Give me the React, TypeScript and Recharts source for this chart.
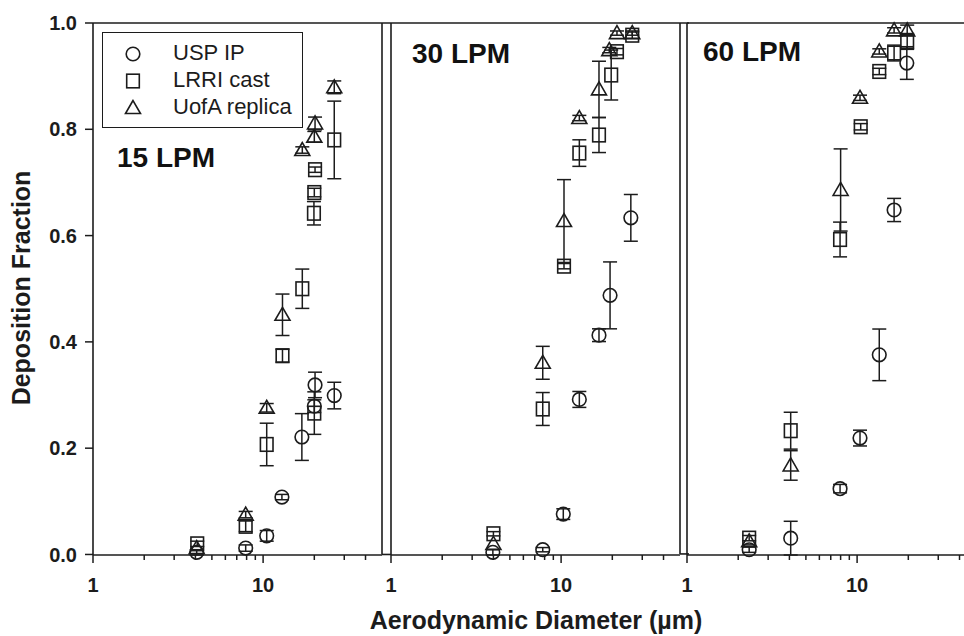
import { ScatterChart, Scatter, XAxis, YAxis, ErrorBar, ReferenceLine, Legend } from 'recharts';

// [diameter µm, deposition fraction, ± error]
type Pt = [number, number, number];

const usp15: Pt[] = [
  [4.07, 0.004, 0.005], [7.9, 0.012, 0.006], [10.5, 0.035, 0.01], [12.9, 0.108, 0.005],
  [16.9, 0.221, 0.044], [20.2, 0.319, 0.024], [20.0, 0.279, 0.012], [26.2, 0.299, 0.025],
];
const lrri15: Pt[] = [
  [4.1, 0.02, 0.005], [7.9, 0.053, 0.01], [10.5, 0.207, 0.04], [13.0, 0.374, 0.012],
  [17.0, 0.5, 0.037], [19.9, 0.642, 0.022], [20.0, 0.681, 0.008], [20.2, 0.724, 0.005],
  [20.0, 0.266, 0.04], [26.2, 0.78, 0.073],
];
const uofa15: Pt[] = [
  [4.07, 0.012, 0], [7.9, 0.075, 0.006], [10.5, 0.276, 0.008], [13.0, 0.451, 0.039],
  [17.0, 0.761, 0.006], [20.0, 0.786, 0.01], [20.2, 0.811, 0.012], [26.2, 0.879, 0.012],
];

const usp30: Pt[] = [
  [3.97, 0.003, 0.005], [7.8, 0.008, 0.004], [10.3, 0.075, 0.01], [12.8, 0.291, 0.015],
  [16.7, 0.412, 0.012], [19.4, 0.487, 0.063], [25.7, 0.633, 0.044],
];
const lrri30: Pt[] = [
  [4.0, 0.038, 0.004], [7.8, 0.273, 0.031], [10.4, 0.542, 0.005], [12.8, 0.755, 0.025],
  [16.7, 0.789, 0.033], [19.7, 0.902, 0.047], [21.3, 0.946, 0.006], [26.2, 0.977, 0.006],
];
const uofa30: Pt[] = [
  [4.0, 0.019, 0], [7.8, 0.36, 0.031], [10.4, 0.627, 0.078], [12.8, 0.821, 0.005],
  [16.7, 0.875, 0.053], [19.2, 0.949, 0.005], [21.3, 0.981, 0.004], [26.2, 0.981, 0.004],
];

const usp60: Pt[] = [
  [2.32, 0.0, 0.005], [4.07, 0.022, 0.032], [7.94, 0.116, 0.008], [10.4, 0.212, 0.015],
  [13.5, 0.37, 0.049], [16.5, 0.645, 0.022], [19.6, 0.924, 0.031],
];
const lrri60: Pt[] = [
  [2.32, 0.022, 0.005], [4.07, 0.226, 0.035], [7.94, 0.589, 0.033], [10.5, 0.803, 0.006],
  [13.5, 0.908, 0.006], [16.5, 0.943, 0.015], [19.7, 0.965, 0.015],
];
const uofa60: Pt[] = [
  [2.32, 0.016, 0], [4.07, 0.16, 0.028], [8.0, 0.683, 0.078], [10.4, 0.858, 0.005],
  [13.5, 0.946, 0.005], [16.5, 0.986, 0.005], [19.7, 0.986, 0.01],
];

const SERIES_NAMES = ['USP IP', 'LRRI cast', 'UofA replica'];
const PANEL_TITLES = ['15 LPM', '30 LPM', '60 LPM'];
const X_TICKS = [1, 2, 3, 4, 5, 6, 7, 8, 9, 10, 20, 30, 40];
const X_LABELED = [1, 10];
const Y_TICKS = [0, 0.2, 0.4, 0.6, 0.8, 1.0];
const X_MAX = 50;

const INK = '#1c1c1c';
const FONT = '"Liberation Sans", Arial, sans-serif';
const KINDS = ['circle', 'square', 'triangle'] as const;
type Kind = (typeof KINDS)[number];

// layout
const W = 964;
const H = 636;
const TOP = 23;
const X_AXIS_H = 81;
const PLOT_W = 289;
const GAP = 9;
const GAP_END = X_MAX * Math.pow(10, (GAP * Math.log10(X_MAX)) / PLOT_W);

const toRows = (pts: Pt[]) => pts.map(([x, y, err]) => ({ x, y, err }));

function Marker({ kind, cx, cy }: { kind: Kind; cx: number; cy: number }) {
  const common = { fill: 'none', stroke: INK, strokeWidth: 1.6 };
  if (kind === 'circle') return <circle cx={cx} cy={cy} r={6.8} {...common} />;
  if (kind === 'square') return <rect x={cx - 6.3} y={cy - 6.8} width={12.6} height={13.6} {...common} />;
  return <polygon points={`${cx},${cy - 7.5} ${cx - 7.5},${cy + 5.5} ${cx + 7.5},${cy + 5.5}`} {...common} />;
}

const XTick = (props: any) => {
  const { x, y, payload } = props;
  const major = X_LABELED.includes(payload.value);
  return (
    <g>
      <line x1={x} x2={x} y1={y} y2={y + (major ? 8 : 5)} stroke={INK} strokeWidth={1.5} />
      {major && (
        <text x={x} y={y + 37} textAnchor="middle" fill={INK} fontSize={20} fontWeight="bold" fontFamily={FONT}>
          {payload.value}
        </text>
      )}
    </g>
  );
};

const LegendBox = () => (
  <div
    style={{
      position: 'relative', width: 201, height: 96, boxSizing: 'border-box',
      border: `1.6px solid ${INK}`, background: '#fff', fontFamily: FONT,
    }}
  >
    {SERIES_NAMES.map((name, i) => (
      <div key={name}>
        <svg width={20} height={20} style={{ position: 'absolute', left: 20, top: 11 + i * 27 }}>
          <Marker kind={KINDS[i]} cx={10} cy={10} />
        </svg>
        <span style={{ position: 'absolute', left: 70, top: 7 + i * 27, fontSize: 22, lineHeight: '26px', color: INK }}>
          {name}
        </span>
      </div>
    ))}
  </div>
);

interface PanelProps {
  index: number;
  left: number;
  width: number;
  axisW: number;
  series: Pt[][];
  titleX: number;
  titleY: number;
}

function Panel({ index, left, width, axisW, series, titleX, titleY }: PanelProps) {
  const first = index === 0;
  return (
    <div style={{ position: 'absolute', left, top: 0 }}>
      <ScatterChart width={width} height={H} margin={{ top: TOP, right: width - axisW - PLOT_W, bottom: 0, left: 0 }}>
        <XAxis
          type="number"
          dataKey="x"
          scale="log"
          domain={[1, X_MAX]}
          ticks={X_TICKS}
          interval={0}
          height={X_AXIS_H}
          tickSize={0}
          tickMargin={0}
          tickLine={false}
          tick={XTick}
          axisLine={{ stroke: INK, strokeWidth: 1.6 }}
          label={
            first
              ? {
                  content: () => (
                    <text x={536} y={629} textAnchor="middle" fill={INK} fontSize={25} fontWeight="bold" fontFamily={FONT}>
                      Aerodynamic Diameter (µm)
                    </text>
                  ),
                }
              : undefined
          }
        />
        <YAxis
          type="number"
          dataKey="y"
          domain={[0, 1]}
          ticks={Y_TICKS}
          interval={0}
          width={axisW}
          tickSize={8}
          tickMargin={8}
          tickFormatter={(v: number) => v.toFixed(1)}
          tick={first ? { fill: INK, fontSize: 20, fontWeight: 'bold', fontFamily: FONT } : false}
          tickLine={{ stroke: INK, strokeWidth: 1.5 }}
          axisLine={{ stroke: INK, strokeWidth: 1.6 }}
          label={
            first
              ? {
                  content: () => (
                    <text
                      x={30}
                      y={288}
                      transform="rotate(-90, 30, 288)"
                      textAnchor="middle"
                      fill={INK}
                      fontSize={25}
                      fontWeight="bold"
                      fontFamily={FONT}
                    >
                      Deposition Fraction
                    </text>
                  ),
                }
              : undefined
          }
        />
        <ReferenceLine
          segment={[{ x: 1, y: 1 }, { x: GAP_END, y: 1 }]}
          ifOverflow="visible"
          stroke={INK}
          strokeWidth={1.6}
          label={() => (
            <text x={titleX} y={titleY} fill="#111" fontSize={28} fontWeight="bold" fontFamily={FONT}>
              {PANEL_TITLES[index]}
            </text>
          )}
        />
        <ReferenceLine segment={[{ x: X_MAX, y: 0 }, { x: X_MAX, y: 1 }]} ifOverflow="visible" stroke={INK} strokeWidth={1.6} />
        <ReferenceLine segment={[{ x: X_MAX, y: 0 }, { x: GAP_END, y: 0 }]} ifOverflow="visible" stroke={INK} strokeWidth={1.6} />
        {series.map((pts, i) => (
          <Scatter
            key={SERIES_NAMES[i]}
            name={SERIES_NAMES[i]}
            data={toRows(pts)}
            isAnimationActive={false}
            shape={(p: any) => <Marker kind={KINDS[i]} cx={p.cx} cy={p.cy} />}
          >
            <ErrorBar dataKey="err" direction="y" width={7} stroke={INK} strokeWidth={1.5} isAnimationActive={false} />
          </Scatter>
        ))}
        {first && (
          <Legend
            layout="vertical"
            align="center"
            verticalAlign="middle"
            content={() => <LegendBox />}
            wrapperStyle={{ left: 102, top: 32, width: 201, height: 96 }}
          />
        )}
      </ScatterChart>
    </div>
  );
}

export default function App() {
  return (
    <div style={{ position: 'absolute', left: 0, top: 0, width: W, height: H, overflow: 'hidden', background: '#fff' }}>
      <Panel index={0} left={0} width={W} axisW={93} series={[usp15, lrri15, uofa15]} titleX={117} titleY={167} />
      <Panel index={1} left={383} width={306} axisW={8} series={[usp30, lrri30, uofa30]} titleX={29} titleY={63} />
      <Panel index={2} left={679} width={306} axisW={8} series={[usp60, lrri60, uofa60]} titleX={24} titleY={61} />
    </div>
  );
}
